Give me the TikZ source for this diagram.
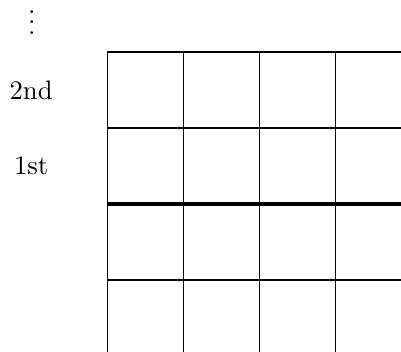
\documentclass[tikz,border=0pt]{standalone}
\begin{document}
\begin{tikzpicture}[gridline/.style={line width=0.4pt},
  thickline/.style={line width=1.5pt},
  lbl/.style={inner sep=0pt}]
\useasboundingbox (-1.41,-1.947) rectangle (3.866,2.684);
\clip (-1.41,-1.947) rectangle (3.866,2.684);
\foreach \x in {0,1,2,3,4} \draw[gridline] (\x,-2.2) -- (\x,2);
\foreach \y in {2,1,-1,-2} \draw[gridline] (0,\y) -- (4.2,\y);
\draw[thickline] (0,0) -- (4.2,0);
\node[lbl] (second) at (-1.0,1.5) {2nd};
\node[lbl] (first) at (-1.0,0.5) {1st};
\node[lbl,anchor=base] (dots) at (-0.99,2.23) {\vbox{\baselineskip4pt\lineskiplimit0pt\hbox{.}\hbox{.}\hbox{.}}};
\end{tikzpicture}
\end{document}
